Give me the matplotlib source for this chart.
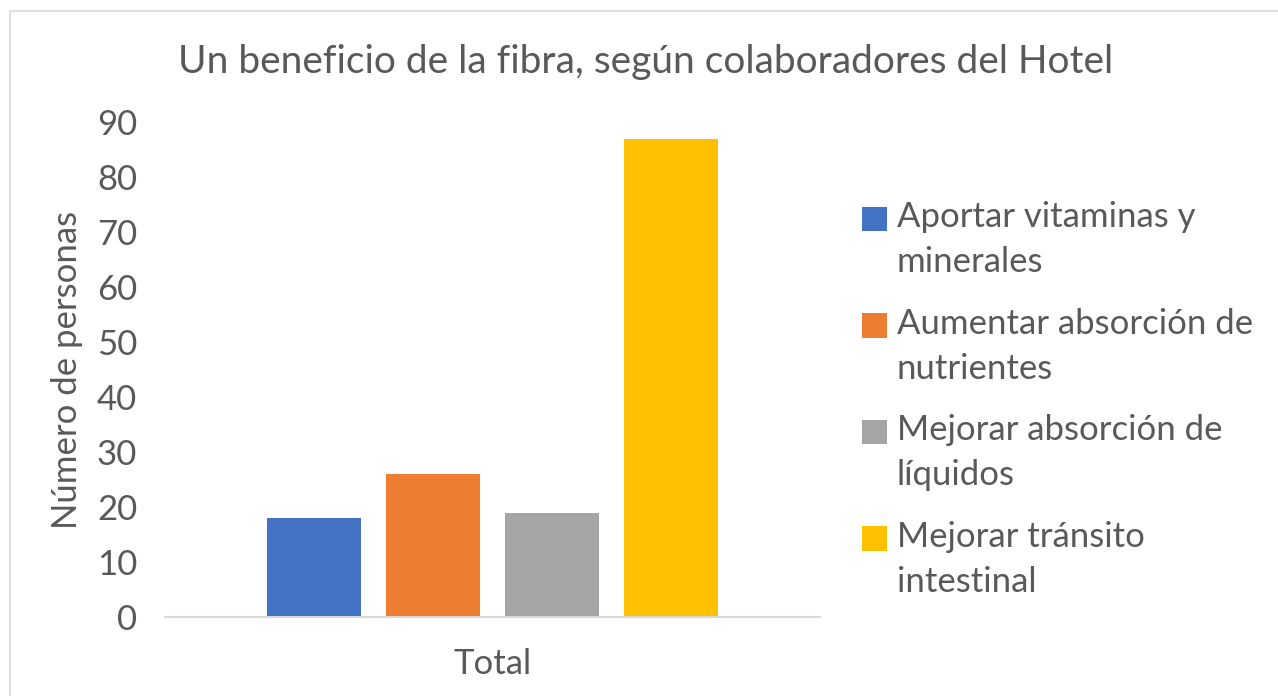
import matplotlib
matplotlib.use("Agg")
import matplotlib.pyplot as plt
from matplotlib.patches import Rectangle, Patch
from matplotlib.legend_handler import HandlerPatch

categories = ["Total"]
series_names = ["Aportar vitaminas y\nminerales",
                "Aumentar absorción de\nnutrientes",
                "Mejorar absorción de\nlíquidos",
                "Mejorar tránsito\nintestinal"]
values = [18, 26, 19, 87]
colors = ["#4472C4", "#ED7D31", "#A5A5A5", "#FFC000"]
yticks = [0, 10, 20, 30, 40, 50, 60, 70, 80, 90]
title = "Un beneficio de la fibra, según colaboradores del Hotel"
ylabel = "Número de personas"

plt.rcParams['font.family'] = ['Lato', 'DejaVu Sans']
txt = "#595959"
fs = 25

fig = plt.figure(figsize=(12.78, 6.96), dpi=100)
fig.patches.append(Rectangle((10/1278, -0.1), 1.2, 1 - 11/696 + 0.1,
                             transform=fig.transFigure, fill=False,
                             edgecolor="#D9D9D9", linewidth=1.2))

ax = fig.add_axes([165/1278, 1 - 617/696, 655/1278, (617 - 122)/696])
n = len(values)
offsets = [i - (n - 1) / 2 for i in range(n)]
handles = []
for off, v, c, name in zip(offsets, values, colors, series_names):
    ax.bar(off, v, width=0.79, color=c, label=name)
    handles.append(Patch(facecolor=c, label=name))

ax.set_xlim(-2.75, 2.75)
ax.set_ylim(0, 90)
ax.set_yticks(yticks)
ax.set_yticklabels([str(t) for t in yticks], fontsize=fs, color=txt)
ax.set_xticks([0])
ax.set_xticklabels(categories, fontsize=fs, color=txt)
ax.tick_params(axis='y', length=0, pad=20)
ax.tick_params(axis='x', length=0, pad=22)
for s in ["top", "right", "left"]:
    ax.spines[s].set_visible(False)
ax.spines["bottom"].set_color("#D9D9D9")
ax.spines["bottom"].set_linewidth(1.5)
ax.set_ylabel(ylabel, fontsize=fs, color=txt, labelpad=10)

fig.text(646/1278, 1 - 62/696, title, fontsize=28, color=txt,
         ha="center", va="center")


def top_square(legend, orig_handle, xdescent, ydescent, width, height, fontsize):
    shift = fontsize * 0.62
    return Rectangle((-xdescent, -ydescent + shift), width, height)


leg = fig.legend(handles=handles, loc="upper left",
                 bbox_to_anchor=(831/1278, 1 - 170/696),
                 frameon=False, fontsize=fs, handlelength=0.7,
                 handleheight=0.7, handletextpad=0.3, labelspacing=0.85,
                 handler_map={Patch: HandlerPatch(patch_func=top_square)})
for t in leg.get_texts():
    t.set_color(txt)
    t.set_linespacing(1.5)

fig.savefig("out.png", dpi=100)
